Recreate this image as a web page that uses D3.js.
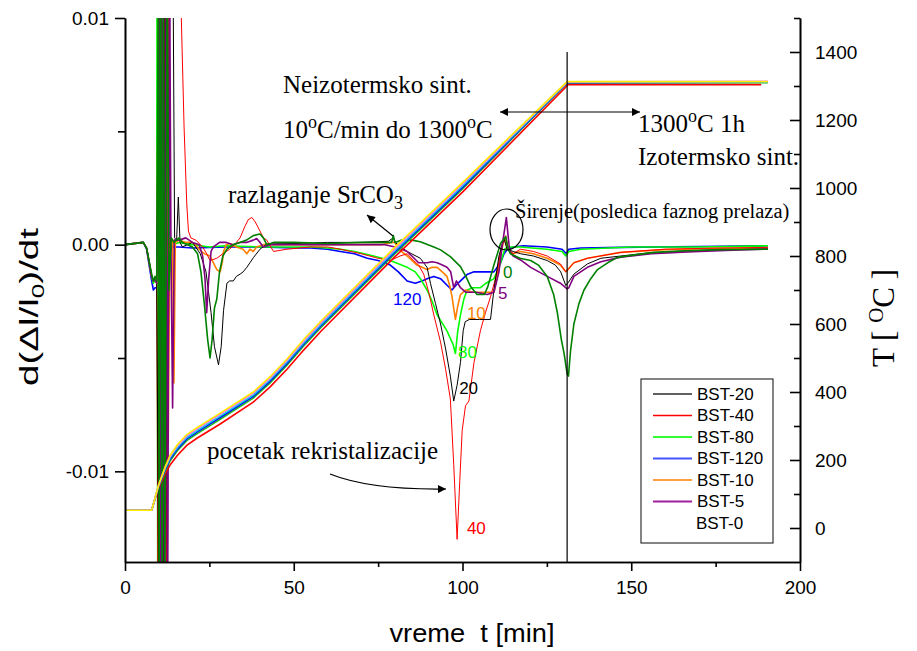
<!DOCTYPE html>
<html><head><meta charset="utf-8">
<script src="https://cdn.jsdelivr.net/npm/d3@7"></script>
<style>
body{margin:0;background:#fff}
svg{display:block}
text{font-family:"Liberation Sans",Arial,sans-serif}
.serif{font-family:"Liberation Serif","Times New Roman",serif}
</style>
</head><body>
<svg id="chart" width="917" height="651"></svg>
<script>
// ---------- data ----------
const xTickValues=[0,50,100,150,200];
const xMinorTicks=[25,75,125,175];
const yTickValues=[-0.01,0,0.01];
const yMinorTicks=[-0.005,0.005];
const tTickValues=[0,200,400,600,800,1000,1200,1400];
const tMinorTicks=[100,300,500,700,900,1100,1300,1500];

const seriesNames=["BST-20","BST-40","BST-80","BST-120","BST-10","BST-5","BST-0"];
const seriesColors=["#000000","#ff0000","#00ff00","#0000ff","#ff8000","#800080","#008000"];
const legendColors=["#606060","#ff0000","#33ff33","#4455ff","#ff8000","#a020a0",null];

// d(Δl/l0)/dt  : [time (min), value]
const bst20=[[0,0],[5.4,0.0001],[6.4,-0.00015],[7.9,-0.0014],[8.4,-0.0016],[8.9,-0.00155],[9.4,-0.0017],
[10.0,-0.016],[10.3,0.013],[10.7,-0.016],[11.1,0.013],[11.5,-0.016],[11.9,0.013],[12.6,-0.016],[13.3,0.013],[14.2,0.013],[14.7,0.0003],[15.3,0.0002],[15.8,0.0021],[16.3,0.0001],[17,-0.0001],[20,0.0001],[22.3,-0.0004],[24,-0.0012],[25.5,-0.003],[26.5,-0.0045],[27.7,-0.0053],[28.5,-0.0045],[29.2,-0.0029],[30.2,-0.0017],[31,-0.0016],[32.1,-0.0016],[33,-0.0014],[34.1,-0.0013],[35,-0.0012],[36.1,-0.001],[37,-0.0008],[38.1,-0.00056],[40,-0.0002],[42,0.00003],[50,0.00005],[60,0.0001],[70,0.0001],[78,0.00015],[79.5,0.0003],[80,0.0001],[83.6,-0.0003],[87.5,-0.0006],[89.5,-0.001],[90.5,-0.0017],[92,-0.0026],[93.5,-0.0035],[95,-0.0046],[96.4,-0.0058],[97.4,-0.0069],[98.4,-0.0062],[99.4,-0.0052],[100.2,-0.0038],[100.8,-0.0034],[102,-0.0033],[105,-0.0033],[108.3,-0.0033],[109.3,-0.002],[110.8,-0.0005],[112.3,0.00028],[113.2,-0.0002],[115,-0.0003],[117.2,-0.0004],[121,-0.0005],[125.1,-0.0007],[127.5,-0.0009],[129.1,-0.0012],[130.6,-0.0018],[131.2,-0.0017],[133,-0.0013],[137,-0.00085],[141,-0.0006],[146.9,-0.0005],[156,-0.00035],[166.7,-0.00027],[178,-0.00022],[190.5,-0.0002]];

const bst40=[[0,0],[5.4,0.0001],[6.4,-0.00015],[7.9,-0.0014],[8.4,-0.0016],[8.9,-0.00155],[9.4,-0.0017],
[9.8,-0.016],[10.2,0.013],[10.6,-0.016],[11.0,0.013],[11.3,-0.016],[11.6,0.013],[12.4,-0.016],[13.0,0.013],[13.9,0.013],[16.6,0.0105],[17.5,0.0052],[18.3,0.0018],[18.8,0.0006],[19.5,0.0003],[21,0.0002],[23,-0.0001],[24.2,-0.0004],[25.2,-0.0007],[27.2,-0.0006],[29,-0.0004],[31,-0.0002],[33,0.0001],[34.1,0.0003],[35.5,0.0008],[36.5,0.0011],[37.6,0.0012],[38.6,0.001],[40,0.0006],[41,0.0003],[42,0.0002],[44,-0.0003],[48,-0.0002],[55,-0.0001],[60,-0.0001],[63.8,-0.0002],[70,-0.0004],[75,-0.0006],[78.6,-0.0007],[81.5,-0.0005],[83.6,-0.0004],[85.5,-0.0007],[87,-0.0009],[88.5,-0.0013],[90,-0.0021],[91.5,-0.0031],[93.5,-0.0043],[95,-0.0055],[96.4,-0.0068],[97.4,-0.0097],[98.4,-0.013],[99.2,-0.0104],[99.9,-0.0082],[100.9,-0.0071],[101.9,-0.0069],[103.4,-0.0052],[105.3,-0.0038],[106.8,-0.003],[108.3,-0.0023],[110.3,-0.0012],[111.5,-0.0001],[112.8,0.0004],[113.6,-0.0002],[115,-0.0004],[117.2,-0.0002],[121,-0.0003],[125.1,-0.0005],[129,-0.00085],[130.6,-0.0012],[131.2,-0.0011],[133,-0.0008],[137,-0.0006],[146.9,-0.00034],[160,-0.0002],[175,-0.00015],[190.5,-0.00012]];

const bst80=[[0,0],[5.4,0.0001],[6.4,-0.00015],[7.9,-0.0014],[8.4,-0.0017],[8.9,-0.00155],[9.4,-0.0017],
[9.5,0.013],[9.7,-0.016],[10.2,0.013],[10.5,-0.016],[10.9,0.013],[11.4,-0.016],[11.9,0.013],[12.3,0.0005],[13,0.0001],[14,0],[16,0.0001],[20,0],[25,-0.0001],[30,-0.00005],[40,-0.0001],[50,-0.0001],[55,-0.0001],[60,-0.00015],[63.8,-0.0002],[68,-0.0003],[73.7,-0.0005],[78.6,-0.0007],[83.6,-0.001],[86,-0.0012],[87.5,-0.0015],[89.5,-0.002],[91,-0.0025],[92.5,-0.0031],[95.4,-0.0038],[97.2,-0.0044],[97.9,-0.0048],[98.6,-0.0038],[99.4,-0.0031],[100.4,-0.0024],[101.4,-0.002],[103,-0.0019],[105.3,-0.0019],[107,-0.0017],[109.3,-0.0015],[110.5,-0.0011],[111.3,-0.0008],[112.5,-0.0002],[113.5,-0.0001],[117.2,-0.0001],[125,-0.0002],[129.5,-0.0003],[130.6,-0.0005],[131.5,-0.0003],[135,-0.0002],[150,-0.0001],[170,-0.0001],[190.5,-0.00005]];

const bst120=[[0,0],[5.4,0.0001],[6.4,-0.0002],[7.9,-0.0016],[8.4,-0.002],[8.9,-0.0019],[9.4,-0.0019],[9.9,-0.0018],
[10.4,-0.016],[10.9,0.013],[11.6,-0.016],[12.4,0.013],[13.0,-0.0004],[14,-0.0001],[16,-0.0001],[20,-0.00015],[30,-0.0001],[40,-0.0001],[50,-0.00015],[55,-0.00015],[60,-0.0002],[63.8,-0.0003],[68,-0.0004],[71.8,-0.0006],[75,-0.0007],[78.6,-0.0009],[81,-0.0012],[83.6,-0.0016],[86,-0.0017],[88,-0.0016],[89.5,-0.0015],[91.5,-0.0014],[93.5,-0.0015],[95.5,-0.0018],[96.9,-0.002],[98,-0.0018],[99.4,-0.0016],[101.5,-0.0013],[103.4,-0.0012],[106,-0.0012],[109.3,-0.0012],[110.3,-0.001],[111.3,-0.0008],[112.3,-0.0004],[113.3,-0.0002],[115,-0.0001],[118,-0.00005],[125,-0.0001],[129.5,-0.0002],[130.8,-0.0004],[131.5,-0.0002],[135,-0.00015],[147,-0.00012],[170,-0.00008],[190.5,-0.00005]];

const bst10=[[0,0],[5.4,0.0001],[6.4,-0.00015],[7.9,-0.0014],[8.4,-0.0016],[8.9,-0.00155],[9.4,-0.0017],
[10.1,0.013],[10.4,-0.016],[10.8,0.013],[11.1,-0.016],[11.5,0.013],[12.0,-0.016],[12.5,0.013],[12.8,-0.0088],[13.3,0.0003],[14.1,0.0002],[14.5,-0.0061],[14.9,0.0001],[16,0.0002],[18,0.0001],[20,0.0001],[22,-0.0002],[23.5,-0.0004],[25.2,-0.0005],[26.2,-0.0008],[27.2,-0.0011],[28.2,-0.0012],[28.8,-0.0008],[29.2,-0.0003],[30,0],[31,0.00005],[33,-0.0001],[35,-0.0002],[36.1,-0.0004],[37,-0.0002],[38,-0.0003],[39,-0.0001],[41,0],[50,0],[60,0],[70,0],[76,0],[79,0.0001],[80,0.0001],[81,-0.0002],[83.6,-0.0005],[86.5,-0.0009],[89.5,-0.0011],[91,-0.001],[92.5,-0.001],[94,-0.0012],[95.4,-0.0014],[96.2,-0.0018],[96.9,-0.0023],[97.9,-0.0033],[98.6,-0.0027],[99.4,-0.0022],[100.9,-0.002],[103,-0.0021],[107.3,-0.0021],[109.3,-0.0021],[110.3,-0.0014],[111.3,-0.0004],[112.5,0.0003],[113.3,-0.0002],[115,-0.0004],[117.2,-0.0003],[121,-0.0004],[125.1,-0.0006],[129,-0.0009],[130.6,-0.0012],[131.2,-0.0011],[133,-0.0008],[137,-0.0006],[146.9,-0.00034],[160,-0.00022],[175,-0.00017],[190.5,-0.00015]];

const bst5=[[0,0],[5.4,0.0001],[6.4,-0.00015],[7.9,-0.0014],[8.4,-0.0016],[8.9,-0.00155],[9.4,-0.0017],
[10.4,0.013],[10.6,-0.016],[10.9,0.013],[11.1,-0.016],[11.3,0.013],[11.7,-0.016],[12.2,0.013],[12.6,-0.016],[13.2,0.013],[13.6,0.0002],[14.1,-0.0072],[14.6,0.0002],[16,0.0002],[18,0.0003],[20,0.0001],[22,0],[23,-0.0005],[23.7,-0.0015],[24.2,-0.003],[24.8,-0.0015],[25.5,-0.0003],[26.2,-0.0001],[28,0.0001],[30,0.0001],[32,0],[34,0.0001],[36,0.0001],[38,0.0002],[39,0.00027],[40,0.0001],[41,-0.0001],[43,0],[50,0],[60,0],[70,0],[77,0],[80,-0.0001],[82,-0.0002],[83.6,-0.0003],[85,-0.0005],[87,-0.0008],[89.5,-0.0008],[91,-0.00075],[92.5,-0.0008],[94,-0.0009],[95.4,-0.001],[96.5,-0.0012],[97.4,-0.0019],[98.2,-0.0016],[99.4,-0.0019],[101,-0.0021],[104,-0.0021],[107.3,-0.0022],[109.3,-0.0021],[110.8,-0.0012],[111.8,0],[112.6,0.0008],[113.0,0.0012],[113.5,0.0004],[114,-0.0003],[115,-0.0005],[117.5,-0.0007],[120.2,-0.001],[125.1,-0.0014],[129,-0.0017],[131,-0.00195],[131.5,-0.0019],[133,-0.0014],[137,-0.001],[141,-0.00075],[146.9,-0.00055],[156,-0.0004],[166.7,-0.00032],[178,-0.00025],[190.5,-0.00019]];

const bst0=[[0,0],[5.4,0.0001],[6.4,-0.00015],[7.9,-0.0013],[8.4,-0.0016],[8.9,-0.0014],[9.4,-0.0016],
[9.9,0.013],[10.1,-0.016],[10.6,0.013],[11.0,-0.016],[11.4,0.013],[11.8,-0.016],[12.5,0.013],[13.0,-0.002],[13.7,0.0003],[14.5,0.0001],[16,0.0003],[17,0.0001],[18.5,0],[20,-0.0001],[21.5,-0.0004],[22.5,-0.0012],[23.5,-0.0026],[24.5,-0.0042],[25.2,-0.005],[25.8,-0.0042],[26.5,-0.0028],[27.2,-0.0024],[28,-0.0012],[29,-0.0005],[30.2,-0.0002],[32,0],[34,0.0001],[36,0.0002],[38,0.0004],[40,0.00047],[41,0.0003],[42,0],[44,0.0001],[50,0.0001],[60,0.00005],[70,0.0001],[79,0.0001],[79.5,0.0004],[80,0.0001],[82,0.0002],[85,0.0002],[87.5,0.00013],[91.5,-0.0001],[93.5,-0.00023],[96.4,-0.00053],[99.4,-0.00097],[101,-0.0014],[102.4,-0.00185],[104.3,-0.0022],[106.5,-0.0022],[107.5,-0.00185],[109.3,-0.0009],[111.3,0.00006],[112.8,0.00035],[113.5,-0.0002],[114.2,-0.0004],[117,-0.0006],[120.2,-0.0007],[122.5,-0.0009],[125.1,-0.0014],[127,-0.0022],[128.1,-0.003],[129.3,-0.0042],[130.1,-0.0048],[131,-0.0057],[131.4,-0.0058],[132,-0.0047],[133,-0.0035],[134.5,-0.0026],[136,-0.002],[138,-0.0015],[140,-0.0011],[143,-0.0008],[145.9,-0.00056],[151,-0.00045],[156.8,-0.00034],[166,-0.00027],[176.6,-0.00022],[190.5,-0.0002]];

const derivSeries=[bst20,bst40,bst80,bst120,bst10,bst5,bst0];

// temperature curves : [time (min), T (°C)]
const tempColors=["#ff0000","#22bb22","#0000ff","#00d8d8","#ff66ff","#ffee00"];
const tempRed=[[0,52],[7.9,52],[9.9,118],[11.9,160],[13.4,186],[15.5,213],[18.3,243],[21.3,264],[28.2,306],[38,370],[43,415],[48,467],[53,524],[58,578],[80,798],[100,988],[131.3,1304],[188.5,1304]];
const tempGreen=[[0,52],[7.9,52],[9.9,121],[11.9,168],[13.4,198],[15.5,227],[18.3,257],[21.3,277],[28.2,320],[38,382],[43,427],[48,479],[53,536],[58,589],[80,807],[100,997],[131,1309],[190.5,1310]];
const tempBlue=[[0,52],[7.9,52],[9.9,122],[11.9,172],[13.4,203],[15.5,232],[18.3,262],[21.3,282],[28.2,325],[38,387],[43,432],[48,484],[53,541],[58,594],[80,812],[100,1002],[131,1310],[190.5,1311]];
const tempCyan=[[0,52],[7.9,52],[9.9,123],[11.9,175],[13.4,207],[15.5,236],[18.3,266],[21.3,286],[28.2,329],[38,391],[43,436],[48,488],[53,545],[58,598],[80,816],[100,1006],[131,1311],[190.5,1312]];
const tempMagenta=[[0,52],[7.9,52],[9.9,124],[11.9,178],[13.4,211],[15.5,241],[18.3,271],[21.3,291],[28.2,334],[38,396],[43,441],[48,493],[53,550],[58,603],[80,821],[100,1011],[131,1312],[190.5,1314]];
const tempYellow=[[0,52],[7.9,52],[9.9,125],[11.9,180],[13.4,214],[15.5,245],[18.3,275],[21.3,295],[28.2,338],[38,400],[43,445],[48,497],[53,555],[58,608],[80,826],[100,1016],[131,1313],[190.5,1313]];
const tempSeries=[tempRed,tempGreen,tempBlue,tempCyan,tempMagenta,tempYellow];

// curve labels: [text, time, value, colour index]
const curveLabels=[["120",79.4,-0.00266,3],["10",101.3,-0.00328,4],["80",98.7,-0.0050,2],["20",99.0,-0.00659,0],["40",101.3,-0.01276,1],["5",110.5,-0.0024,5],["0",112.0,-0.00147,6]];

// ---------- drawing ----------
const svg=d3.select("#chart");
const L=125,R=800,T=18,B=562;
const x=d3.scaleLinear().domain([0,200]).range([L,R]);
const y=d3.scaleLinear().domain([-0.014,0.01]).range([B,T]);
const yT=d3.scaleLinear().domain([-100,1500]).range([B,T]);

const defs=svg.append("defs");
defs.append("clipPath").attr("id","plotclip")
  .append("rect").attr("x",L).attr("y",T).attr("width",R-L).attr("height",B-T);
defs.append("marker").attr("id","ah").attr("viewBox","0 0 10 10").attr("refX",10).attr("refY",5)
  .attr("markerWidth",11).attr("markerHeight",8).attr("markerUnits","userSpaceOnUse").attr("orient","auto-start-reverse")
  .append("path").attr("d","M0,0L10,5L0,10z").attr("fill","#000");

const plot=svg.append("g").attr("clip-path","url(#plotclip)");
const line=d3.line().x(d=>x(d[0])).y(d=>y(d[1]));
const lineT=d3.line().x(d=>x(d[0])).y(d=>yT(d[1]));

// derivative curves (draw order: back to front)
const order=[3,2,4,1,0,5,6];
order.forEach(i=>{
  plot.append("path").attr("d",line(derivSeries[i])).attr("fill","none")
    .attr("stroke",seriesColors[i]).attr("stroke-width",(i===0||i===1)?1:1.6).attr("stroke-linejoin","round");
});
// temperature curves
tempSeries.forEach((s,i)=>{
  plot.append("path").attr("d",lineT(s)).attr("fill","none").attr("stroke",tempColors[i]).attr("stroke-width",1.6);
});

// vertical line at end of heating
svg.append("line").attr("x1",x(131)).attr("x2",x(131)).attr("y1",yT(1400)).attr("y2",B).attr("stroke","#000").attr("stroke-width",1.2);

// axes
const fmt=d=>d.toFixed(2);
svg.append("g").attr("transform",`translate(${L},0)`)
  .call(d3.axisLeft(y).tickValues(yTickValues).tickFormat(fmt).tickSizeInner(10).tickSizeOuter(0).tickPadding(6));
svg.append("g").attr("transform",`translate(${L},0)`)
  .call(d3.axisLeft(y).tickValues(yMinorTicks).tickFormat("").tickSizeInner(7).tickSizeOuter(0));
svg.append("g").attr("transform",`translate(0,${B})`)
  .call(d3.axisBottom(x).tickValues(xTickValues).tickFormat(d3.format("d")).tickSizeInner(9).tickSizeOuter(0).tickPadding(10));
svg.append("g").attr("transform",`translate(0,${B})`)
  .call(d3.axisBottom(x).tickValues(xMinorTicks).tickFormat("").tickSizeInner(5).tickSizeOuter(0));
svg.append("g").attr("transform",`translate(${R},0)`)
  .call(d3.axisRight(yT).tickValues(tTickValues).tickFormat(d3.format("d")).tickSizeInner(-10).tickSizeOuter(0).tickPadding(15));
svg.append("g").attr("transform",`translate(${R},0)`)
  .call(d3.axisRight(yT).tickValues(tMinorTicks).tickFormat("").tickSizeInner(-6).tickSizeOuter(0));
svg.selectAll(".domain").attr("stroke","#000").attr("stroke-width",1.6);
svg.selectAll(".tick line").attr("stroke","#000").attr("stroke-width",1.6);
svg.selectAll(".tick text").attr("font-size",19).attr("font-family","Liberation Sans, Arial, sans-serif").attr("fill","#000");

// axis titles
const lt=svg.append("text").attr("transform","translate(38,307) rotate(-90)").attr("text-anchor","middle").attr("font-size",25)
  .attr("textLength",158).attr("lengthAdjust","spacingAndGlyphs");
lt.append("tspan").text("d(Δl/l");
lt.append("tspan").attr("font-size",17).attr("dy",6).text("0");
lt.append("tspan").attr("dy",-6).text(")/dt");

svg.append("text").attr("x",472).attr("y",642).attr("text-anchor","middle").attr("font-size",26)
  .attr("textLength",165).attr("lengthAdjust","spacingAndGlyphs")
  .style("white-space","pre").text("vreme  t [min]");

const rt=svg.append("text").attr("class","serif").attr("transform","translate(894,318) rotate(-90)").attr("text-anchor","middle").attr("font-size",31).style("white-space","pre");
rt.append("tspan").text("T [ ");
rt.append("tspan").attr("font-size",21).attr("dy",-11).text("O");
rt.append("tspan").attr("dy",11).text("C ]");

// curve labels
curveLabels.forEach(c=>{
  svg.append("text").attr("x",x(c[1])).attr("y",y(c[2])).attr("font-size",17).attr("fill",seriesColors[c[3]]).text(c[0]);
});

// annotations
function serifText(xp,yp,size){return svg.append("text").attr("class","serif").attr("x",xp).attr("y",yp).attr("font-size",size).style("white-space","pre");}
serifText(283,93,25).text("Neizotermsko sint.");
const a2=serifText(283,138,25);
a2.append("tspan").text("10");a2.append("tspan").attr("font-size",18).attr("dy",-10).text("o");
a2.append("tspan").attr("dy",10).text("C/min do 1300");a2.append("tspan").attr("font-size",18).attr("dy",-10).text("o");
a2.append("tspan").attr("dy",10).text("C");
const a3=serifText(638,132,25);
a3.append("tspan").text("1300");a3.append("tspan").attr("font-size",18).attr("dy",-10).text("o");
a3.append("tspan").attr("dy",10).text("C 1h");
serifText(638,165,25).text("Izotermsko sint.");
const a4=serifText(228,203,25);
a4.append("tspan").text("razlaganje SrCO");a4.append("tspan").attr("font-size",18).attr("dy",6).text("3");
serifText(515,218,20.5).text("Širenje(posledica faznog prelaza)");
serifText(207,459,25).text("pocetak rekristalizacije");

// arrows
svg.append("line").attr("x1",500).attr("y1",112).attr("x2",640).attr("y2",112).attr("stroke","#000").attr("stroke-width",1.2)
  .attr("marker-start","url(#ah)").attr("marker-end","url(#ah)");
svg.append("line").attr("x1",393).attr("y1",236).attr("x2",367).attr("y2",215).attr("stroke","#000").attr("stroke-width",1.2)
  .attr("marker-end","url(#ah)");
svg.append("path").attr("d","M330,474 Q370,490 446,489").attr("fill","none").attr("stroke","#000").attr("stroke-width",1.2)
  .attr("marker-end","url(#ah)");
svg.append("ellipse").attr("cx",506.5).attr("cy",229.5).attr("rx",16.5).attr("ry",20.5).attr("fill","none").attr("stroke","#000").attr("stroke-width",1.2);

// legend
const lg=svg.append("g");
lg.append("rect").attr("x",641).attr("y",379).attr("width",132).attr("height",164).attr("fill","#fff").attr("stroke","#333").attr("stroke-width",1.2);
seriesNames.forEach((n,i)=>{
  const yy=394+i*21.5;
  if(legendColors[i]) lg.append("line").attr("x1",653).attr("x2",692).attr("y1",yy).attr("y2",yy).attr("stroke",legendColors[i]).attr("stroke-width",(i===1||i===4)?1.3:2);
  lg.append("text").attr("x",i===6?696:697).attr("y",yy).attr("dy","0.35em").attr("font-size",17).text(n);
});
</script>
</body></html>
